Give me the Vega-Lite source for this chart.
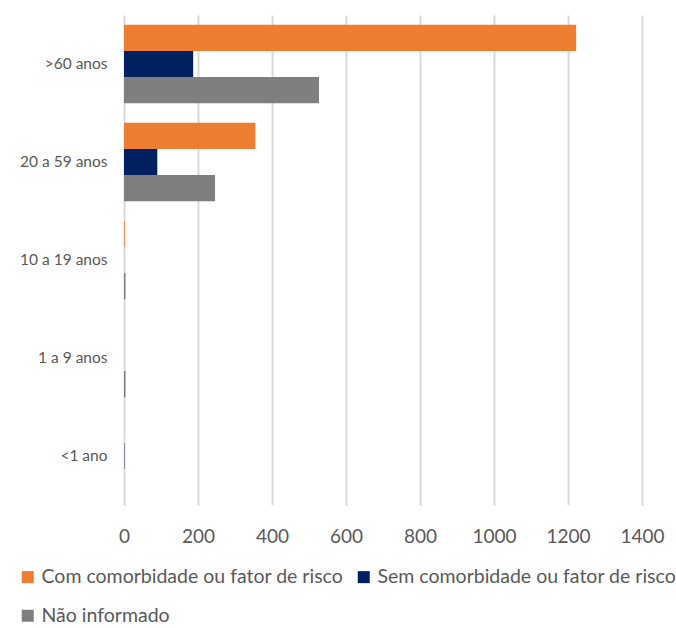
{
  "$schema": "https://vega.github.io/schema/vega-lite/v6.json",
  "width": 518,
  "height": 490,
  "autosize": {"type": "none"},
  "padding": {"left": 124, "top": 15, "right": 34, "bottom": 123},
  "background": "white",
  "config": {"view": {"stroke": null}, "font": "Lato"},
  "data": {"values": [
    {"faixa": ">60 anos", "grupo": "Com comorbidade ou fator de risco", "valor": 1222},
    {"faixa": ">60 anos", "grupo": "Sem comorbidade ou fator de risco", "valor": 187},
    {"faixa": ">60 anos", "grupo": "Não informado", "valor": 527},
    {"faixa": "20 a 59 anos", "grupo": "Com comorbidade ou fator de risco", "valor": 355},
    {"faixa": "20 a 59 anos", "grupo": "Sem comorbidade ou fator de risco", "valor": 90},
    {"faixa": "20 a 59 anos", "grupo": "Não informado", "valor": 246},
    {"faixa": "10 a 19 anos", "grupo": "Com comorbidade ou fator de risco", "valor": 2},
    {"faixa": "10 a 19 anos", "grupo": "Sem comorbidade ou fator de risco", "valor": 0},
    {"faixa": "10 a 19 anos", "grupo": "Não informado", "valor": 4},
    {"faixa": "1 a 9  anos", "grupo": "Com comorbidade ou fator de risco", "valor": 0},
    {"faixa": "1 a 9  anos", "grupo": "Sem comorbidade ou fator de risco", "valor": 0},
    {"faixa": "1 a 9  anos", "grupo": "Não informado", "valor": 4},
    {"faixa": "<1 ano", "grupo": "Com comorbidade ou fator de risco", "valor": 0},
    {"faixa": "<1 ano", "grupo": "Sem comorbidade ou fator de risco", "valor": 1},
    {"faixa": "<1 ano", "grupo": "Não informado", "valor": 0}
  ]},
  "mark": {"type": "bar"},
  "encoding": {
    "y": {
      "field": "faixa", "type": "nominal",
      "sort": [">60 anos", "20 a 59 anos", "10 a 19 anos", "1 a 9  anos", "<1 ano"],
      "scale": {"paddingInner": 0.2, "paddingOuter": 0.1},
      "axis": {"title": null, "domain": false, "ticks": false, "labelFontSize": 15.5, "labelColor": "#595959", "labelPadding": 17, "labelFont": "Lato"}
    },
    "yOffset": {
      "field": "grupo", "type": "nominal",
      "sort": ["Com comorbidade ou fator de risco", "Sem comorbidade ou fator de risco", "Não informado"]
    },
    "x": {
      "field": "valor", "type": "quantitative",
      "scale": {"domain": [0, 1400], "nice": false},
      "axis": {"title": null, "format": "d", "values": [0, 200, 400, 600, 800, 1000, 1200, 1400], "domain": false, "ticks": false, "grid": true, "gridColor": "#D9D9D9", "gridWidth": 2, "labelFontSize": 19, "labelColor": "#595959", "labelPadding": 22, "labelFont": "Lato", "labelFlush": false}
    },
    "color": {
      "field": "grupo", "type": "nominal",
      "sort": ["Com comorbidade ou fator de risco", "Sem comorbidade ou fator de risco", "Não informado"],
      "scale": {"domain": ["Com comorbidade ou fator de risco", "Sem comorbidade ou fator de risco", "Não informado"], "range": ["#ED7D31", "#002060", "#7F7F7F"]},
      "legend": {
        "title": null, "orient": "none", "legendX": -106, "legendY": 552,
        "direction": "horizontal", "columns": 2, "columnPadding": 10, "rowPadding": 18,
        "symbolType": "square", "symbolSize": 144, "symbolStrokeWidth": 0,
        "labelFontSize": 19.5, "labelColor": "#595959", "labelOffset": 4, "labelFont": "Lato", "labelLimit": 400
      }
    }
  }
}
